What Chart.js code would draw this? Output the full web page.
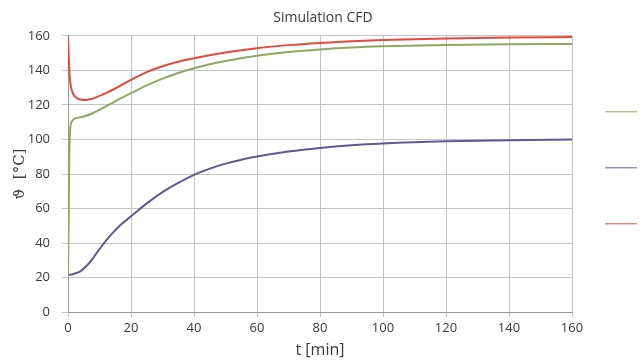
<!DOCTYPE html>
<html>
<head>
<meta charset="utf-8">
<script src="https://cdn.jsdelivr.net/npm/chart.js@4/dist/chart.umd.min.js"></script>
<style>
  html, body { margin: 0; padding: 0; background: #fff; }
  #wrap { width: 640px; height: 360px; }
</style>
</head>
<body>
<div id="wrap"><canvas id="cfdChart" width="640" height="360"></canvas></div>
<script>
// Datos (t en minutos, temperatura en grados C)
const xTicks = [0, 20, 40, 60, 80, 100, 120, 140, 160];
const yTicks = [0, 20, 40, 60, 80, 100, 120, 140, 160];

const tGreen = [0, 0.2, 0.4, 0.7, 1, 2, 3, 5, 8, 10, 14, 17, 20, 25, 30, 35, 40, 45, 50, 60, 70, 80, 90, 100, 120, 140, 160];
const vGreen = [21, 50, 90, 106, 109.5, 111.8, 112.5, 113.3, 115.3, 117.2, 121, 124, 126.8, 131.3, 135.2, 138.5, 141.2, 143.5, 145.4, 148.4, 150.6, 152.1, 153.2, 153.9, 154.7, 155.1, 155.3];

const tBlue = [0, 2, 4, 6, 8, 10, 12, 14, 17, 20, 25, 30, 35, 40, 45, 50, 55, 60, 70, 80, 90, 100, 120, 140, 160];
const vBlue = [21.5, 22.3, 23.8, 27, 31.5, 36.5, 41.3, 45.5, 51, 55.5, 63, 69.5, 74.8, 79.5, 83.1, 86, 88.3, 90.1, 93, 95.1, 96.6, 97.6, 98.9, 99.6, 100];

const tRed = [0, 0.3, 0.6, 1, 1.5, 2, 3, 4, 5, 6, 7, 8, 10, 12, 15, 20, 25, 30, 35, 40, 50, 60, 70, 80, 90, 100, 120, 140, 160];
const vRed = [160, 145, 135, 130, 127, 125.3, 123.8, 123.1, 122.8, 122.9, 123.3, 123.8, 125.2, 126.8, 129.5, 134.5, 139, 142.4, 145, 147, 150.3, 152.8, 154.6, 155.9, 156.9, 157.6, 158.5, 159, 159.3];

function toPoints(ts, vs) {
    return ts.map((t, i) => ({ x: t, y: vs[i] }));
}

const gridColor = '#c4c4c4';
const textColor = '#3a3a3a';

const ctx = document.getElementById('cfdChart');

const cfdChart = new Chart(ctx, {
    type: 'line',
    data: {
        datasets: [
            { label: '', data: toPoints(tGreen, vGreen), borderColor: '#8fa860', backgroundColor: '#8fa860' },
            { label: '', data: toPoints(tBlue, vBlue), borderColor: '#5c5a96', backgroundColor: '#5c5a96' },
            { label: '', data: toPoints(tRed, vRed), borderColor: '#e5483c', backgroundColor: '#e5483c' }
        ]
    },
    options: {
        responsive: false,
        animation: false,
        devicePixelRatio: 1,
        layout: { padding: { top: 0, right: 0, bottom: 0, left: 6 } },
        elements: {
            line: { borderWidth: 2, cubicInterpolationMode: 'monotone' },
            point: { radius: 0 }
        },
        plugins: {
            title: {
                display: true,
                text: 'Simulation CFD',
                color: textColor,
                font: { family: 'Open Sans', size: 14, weight: 'normal' },
                padding: { top: 10, bottom: 9 }
            },
            legend: {
                position: 'right',
                align: 'start',
                fullSize: false,
                maxWidth: 68,
                // titulo vacio solo para bajar las lineas de la leyenda
                title: { display: true, text: ' ', font: { size: 10 }, padding: { top: 10, bottom: 9.5 } },
                labels: {
                    usePointStyle: true,
                    pointStyle: 'line',
                    pointStyleWidth: 32,
                    padding: 33,
                    font: { size: 23 }
                }
            },
            tooltip: { enabled: false }
        },
        scales: {
            x: {
                type: 'linear',
                min: 0,
                max: 160,
                afterBuildTicks: axis => { axis.ticks = xTicks.map(v => ({ value: v })); },
                grid: { color: gridColor, tickLength: 5 },
                border: { color: '#9a9a9a' },
                ticks: { color: textColor, font: { family: 'Open Sans', size: 13 }, padding: 3, maxRotation: 0 },
                title: {
                    display: true,
                    text: 't [min]',
                    color: textColor,
                    font: { family: 'Open Sans', size: 16 },
                    padding: { top: 2, bottom: 0 }
                }
            },
            y: {
                min: 0,
                max: 160,
                afterBuildTicks: axis => { axis.ticks = yTicks.map(v => ({ value: v })); },
                afterFit: axis => { axis.width = 62; },
                grid: { color: gridColor, tickLength: 6 },
                border: { color: '#9a9a9a' },
                ticks: { color: textColor, font: { family: 'Open Sans', size: 13 }, padding: 12 },
                title: {
                    display: true,
                    text: 'ϑ  [°C]',
                    color: textColor,
                    font: { family: 'DejaVu Serif', size: 15 },
                    padding: { top: 5, bottom: 0 }
                }
            }
        }
    }
});
</script>
</body>
</html>
